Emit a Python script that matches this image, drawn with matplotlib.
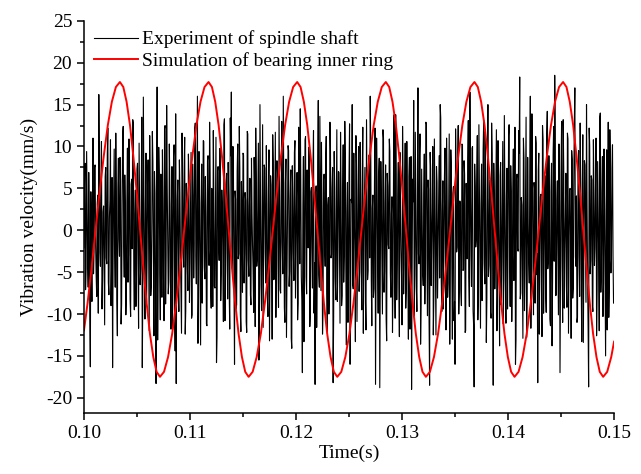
import numpy as np
import matplotlib
matplotlib.use('Agg')
import matplotlib.pyplot as plt
from matplotlib.ticker import MultipleLocator

plt.rcParams['font.family'] = ['Liberation Serif', 'DejaVu Serif']
plt.rcParams['axes.unicode_minus'] = False

# measured spindle shaft velocity (mm/s) on the 0.1 ms grid, 0.1000 .. 0.1500 s
exp_v_a = [
    -2.1, 8.0, -4.5, 2.6, -6.8, 1.2, -16.3, -3.4, 3.1, -5.2, 7.5, -1.8, -7.9, 4.2, 16.2, -2.6, 5.8, -9.4, 2.2, -4.1,
    6.4, -3.3, 9.1, -6.2, 1.5, 10.8, -4.7, -16.4, 3.9, -2.4, 11.6, -8.3, 5.2, -1.1, 8.7, -11.2, 3.5, 12.4, -5.6, 2.8,
    -7.4, 9.8, -2.9, 4.6, -10.3, 6.1, 13.2, -4.8, 1.9, -9.1, 7.3, -3.6, 10.4, -6.5, 2.7, -16.4, 15.9, -5.1, 3.2, -8.6,
    5.7, -2.2, 11.3, -7.8, 0.9, 8.2, -12.6, 4.4, -18.3, 17.1, -3.9, 6.8, -10.7, 2.1, 9.6, -5.3, 12.1, -8.8, 14.9, -1.4,
    -6.1, 4.9, -11.8, 7.6, -3.2, 10.2, -14.4, -18.3, 3.6, -6.9, 8.4, -2.7, -12.3, 5.9, -4.4, 11.1, -9.6, 2.4, -7.2, 6.3,
    -3.8, 9.3, -10.1, 4.1, -1.6, 12.8, -6.4, 16.0, -8.1, 3.3, -13.7, 7.9, -2.5, 10.6, -5.8, 1.7, -11.4, 8.9, -4.2, 6.7,
    -9.3, 3.8, 11.9, -6.7, 2.3, -15.8, 7.1, -1.3, 9.7, -8.4, 4.8, -3.1, 12.6, -10.8, 5.4, -2.2, 8.1, -7.5, 13.4, 16.5,
    -4.6, 6.2, -16.0, 3.7, -8.9, 10.3, -2.8, 7.4, -12.1, 1.8, 9.2, -6.3, 4.5, -10.9, 11.8, -3.5, 2.9, -7.7, 8.6, -1.9,
    -9.8, 5.1, 12.2, -4.3, 3.4, -15.5, 15.0, -6.6, 1.4, -11.6, 7.8, -2.6, 10.1, -8.2, 4.7, -13.2, 6.5, -1.2, 11.4, -5.9,
    2.5, -10.4, 8.3, -3.7, 13.6, -7.1, 4.3, -1.5, 16.0, -9.2, 5.6, -12.8, 2.1, 9.5, -4.9, 7.2, -14.1, 3.9, -6.0, 10.7,
    -2.3, 6.9, -8.7, 3.1, 14.5, -5.5, -17.0, 8.8, -3.4, 11.2, -7.6, 1.6, 9.9, -11.5, 4.6, -2.0, 7.7, -9.9, -18.4, 5.3,
    -4.0, 15.5, -6.8, 2.7, 10.5, -12.4, 6.0, -1.8, 8.5, -7.3, 3.0, -10.0, 12.9, -3.3, 5.0, -18.2, 9.4, -5.7, 1.1, -8.5,
    7.0, -2.4, 11.7, -9.0, 4.0, -6.2, 13.0, -4.5, 2.0, -11.0, 6.6, -16.0, 3.7, 15.0, -7.0, 1.3, -13.3, 8.0, -3.0, 10.0,
    -5.0, 4.2, -9.5, 12.3, -1.0, 7.5, -11.9, 3.5, -4.8, 9.0, 16.0, -6.0, 2.6, -8.0, 5.5, -18.4, 11.0, -3.6, 6.4, -18.8,
    8.2, -2.9, 12.0, -7.4, 3.3, -10.6, 6.8, -1.7, 10.9, -5.2, 1.9, -12.2, 7.6, -3.8, 13.8, -8.3, 4.1, -6.5, 9.3, -2.1,
    -11.3, 5.8, -4.1, 10.4, -7.0, 2.4, -13.0, 8.7, -2.8, -19.0, 6.1, 15.5, -5.4, 3.0, -9.7, 17.0, -4.0, 11.5, -8.8, 1.5,
    -6.6, 9.1, -3.2, 12.7, -10.2, 4.9, -18.5, 7.3, -1.4, 10.0, -7.9, 3.6, -12.5, 5.7, -2.3, 8.9, 15.0, -6.1, 2.2, -9.4,
    6.3, -3.5, 11.0, -8.0, 1.8, -13.6, 9.6, -4.4, 4.4, -10.8, -16.0, 7.0, -2.0, 12.5, -6.9, 3.2, -9.0, 10.2, -4.7, 6.7,
    -12.0, 2.8, 8.4, -5.6, 16.5, -3.0, 9.8, -9.6, -18.7, 5.2, -1.2, 11.3, -7.2, 3.9, -11.7, 7.9, -3.3, 13.1, -6.4, 2.0,
    -8.4, 15.0, -4.2, 6.0, -10.5, 9.0, -18.5, 4.0, -2.6, 12.0, -7.7, 1.2, -13.8, 8.1, -3.9, 10.6, -6.0, 3.4, -11.1, 7.4,
    -1.6, 12.6, -9.1, 4.6, -5.0, 9.7, -3.1, -16.0, 6.2, -2.2, 11.9, 18.3, -7.5, 3.0, -12.9, 8.6, -4.6, 13.5, -8.2, 1.0,
    -6.3, 16.0, -2.7, 7.1, -10.1, 5.0, 11.2, -5.3, -18.2, 9.2, -1.9, 4.3, -12.7, 10.8, -4.0, 6.5, -9.8, 14.2, -3.4, 2.3,
    -11.4, 8.0, -5.9, 12.4, 18.5, -7.8, 3.5, -2.5, 10.3, -17.0, 6.9, -3.7, 13.2, -9.3, 1.7, -6.7, 11.6, -12.3, 4.8, -1.3,
    9.5, -8.1, 5.3, 17.0, -4.3, -11.0, 7.7, -2.9, 12.8, -6.2, 3.8, -13.4, 8.3, -0.8, 15.0, -5.6, -18.7, 10.1, -3.6, 6.0,
    -9.7, 4.5, -2.1, 11.0, -7.1, 2.9, -12.0, 14.0, -4.9, 8.8, -6.5, 3.1, -15.0, 9.6, -1.6, -10.4, 12.0, -5.1, 7.3, -3.0,
    -8.0,
]
# the samples in between (0.10005, 0.10015, ... s)
exp_v_b = [
    5.3, -7.1, 9.4, -3.8, 6.9, -10.2, 4.6, -8.5, 11.0, -2.7, 7.8, -5.4, 3.2, -9.9, 8.1, -4.3, 10.6, -6.0, 2.9, -11.3,
    7.5, -4.0, 12.2, -7.7, 3.6, -9.0, 6.3, -2.5, 9.7, -6.8, 4.1, -12.6, 8.6, -3.1, 5.9, -8.8, 11.4, -1.9, 6.6, -10.1,
    3.4, -6.2, 10.9, -8.3, 5.5, -2.2, 12.8, -9.5, 4.8, -5.9, 8.0, -11.7, 2.6, -4.6, 13.5, -7.3, 6.1, -10.6, 9.2, -3.5,
    8.4, -12.0, 4.3, -6.5, 11.8, -3.9, 7.0, -9.3, 2.4, -13.1, 9.9, -5.1, 6.7, -8.0, 3.8, -10.8, 12.5, -2.9, 5.2, -7.6,
    10.3, -4.8, 3.0, -11.9, 8.8, -6.4, 13.9, -3.2, 6.0, -9.7, 4.5, -7.9, 11.6, -1.6, 7.3, -12.4, 5.6, -4.2, 9.1, -8.6,
    2.2, -10.5, 7.9, -5.7, 12.1, -3.0, 4.9, -13.5, 9.4, -6.1, 3.3, -8.7, 10.7, -4.4, 6.4, -11.2, 8.3, -2.4, 12.9, -7.0,
    5.0, -9.1, 3.9, -6.9, 11.1, -12.8, 7.6, -3.6, 9.8, -5.0, 2.7, -10.9, 13.3, -4.9, 6.8, -8.2, 4.0, -11.8, 8.9, -2.0,
    10.0, -6.6, 4.7, -9.4, 7.1, -3.4, 12.4, -10.0, 5.8, -7.4, 9.0, -2.8, 3.5, -12.2, 11.5, -5.5, 6.2, -8.9, 2.0, -4.7,
    8.7, -11.5, 6.5, -3.3, 10.4, -7.8, 4.4, -9.6, 12.6, -2.3, 7.4, -6.3, 3.1, -10.3, 9.6, -4.1, 5.4, -13.0, 8.2, -5.8,
    11.7, -3.7, 6.8, -9.2, 4.2, -7.5, 13.0, -5.2, 2.8, -11.0, 8.5, -4.5, 10.1, -6.7, 3.7, -12.9, 7.7, -2.6, 9.3, -8.1,
    4.1, -10.7, 12.3, -4.0, 6.1, -8.4, 3.0, -13.3, 10.8, -5.6, 7.2, -2.1, 9.9, -9.8, 5.1, -6.9, 11.9, -3.9, 4.6, -11.6,
    8.0, -5.3, 13.6, -7.2, 2.5, -9.5, 6.7, -4.3, 11.2, -12.1, 3.9, -6.4, 9.5, -2.9, 7.5, -10.4, 5.0, -8.3, 12.0, -3.6,
    6.9, -11.1, 4.5, -7.8, 10.2, -3.1, 8.4, -13.7, 5.7, -5.0, 12.7, -9.0, 3.3, -6.5, 9.2, -2.7, 11.3, -10.9, 4.8, -7.3,
    10.5, -4.6, 7.0, -12.3, 3.6, -8.6, 13.2, -5.9, 6.3, -3.3, 9.7, -11.4, 4.2, -7.0, 12.2, -2.5, 5.8, -9.9, 8.6, -6.0,
    3.2, -10.0, 11.0, -4.9, 7.8, -13.2, 5.3, -2.2, 9.4, -8.0, 4.0, -6.2, 13.8, -10.5, 6.6, -3.8, 8.1, -12.7, 2.9, -5.4,
    12.4, -7.6, 4.9, -9.3, 10.6, -3.5, 6.4, -11.8, 8.8, -4.7, 3.4, -10.2, 11.7, -6.8, 5.5, -2.8, 9.0, -13.6, 7.3, -5.1,
    4.3, -8.8, 12.9, -3.2, 6.0, -10.8, 9.3, -6.6, 2.6, -12.5, 10.9, -4.4, 7.6, -8.1, 3.8, -5.7, 13.4, -9.7, 5.9, -2.3,
    9.8, -11.9, 4.7, -6.3, 11.5, -3.9, 7.2, -13.0, 5.2, -8.5, 12.1, -2.6, 6.9, -10.0, 3.5, -7.1, 10.3, -4.8, 8.3, -12.2,
    5.6, -3.4, 13.1, -9.1, 4.4, -6.7, 10.0, -11.3, 7.9, -2.0, 6.2, -10.7, 12.6, -5.0, 3.1, -8.4, 9.6, -4.0, 11.8, -13.4,
    7.0, -5.5, 3.6, -9.8, 12.8, -2.9, 8.0, -7.0, 5.1, -12.0, 10.7, -4.1, 6.5, -8.9, 2.7, -11.2, 13.7, -6.1, 4.2, -9.4,
    11.3, -3.0, 7.7, -10.9, 4.8, -6.0, 12.3, -13.1, 6.7, -2.5, 9.2, -8.2, 3.9, -5.3, 11.0, -9.6, 5.4, -12.8, 8.7, -3.8,
    6.3, -11.7, 13.9, -4.5, 5.7, -8.7, 10.4, -2.8, 7.1, -12.4, 4.0, -6.6, 12.5, -9.9, 3.2, -7.5, 11.6, -4.6, 8.9, -10.6,
    4.6, -13.8, 9.1, -3.7, 12.0, -7.7, 5.9, -10.1, 3.4, -5.9, 13.0, -11.0, 7.4, -2.4, 6.8, -9.2, 10.9, -4.3, 5.0, -12.9,
    8.5, -6.8, 12.7, -3.1, 4.1, -10.4, 9.5, -7.9, 6.0, -13.3, 11.4, -2.2, 7.8, -8.6, 3.0, -11.5, 12.2, -5.2, 6.5, -9.0,
    10.8, -4.2, 5.3, -12.6, 8.2, -3.3, 13.5, -7.4, 4.5, -10.3, 9.7, -5.8, 2.4, -11.9, 12.9, -6.4, 7.5, -3.5, 10.2, -8.7,
]
t_a = 0.10 + 0.0001 * np.arange(len(exp_v_a))
t_b = 0.10005 + 0.0001 * np.arange(len(exp_v_b))
exp_t = np.concatenate([t_a, t_b])
exp_v = np.concatenate([exp_v_a, exp_v_b])
order = np.argsort(exp_t)
exp_t, exp_v = exp_t[order], exp_v[order]

# simulated bearing inner ring velocity (mm/s)
sim_t = [
    0.10000, 0.10034, 0.10072, 0.10110, 0.10148, 0.10187, 0.10225, 0.10263, 0.10301, 0.10339,
    0.10371, 0.10402, 0.10434, 0.10465, 0.10497, 0.10528, 0.10560, 0.10591, 0.10622, 0.10654, 0.10685, 0.10717,
    0.10755, 0.10793, 0.10832, 0.10870, 0.10908, 0.10946, 0.10984, 0.11023, 0.11061, 0.11099, 0.11137, 0.11175,
    0.11207, 0.11238, 0.11270, 0.11301, 0.11333, 0.11364, 0.11396, 0.11427, 0.11458, 0.11490, 0.11521, 0.11553,
    0.11591, 0.11629, 0.11668, 0.11706, 0.11744, 0.11782, 0.11820, 0.11859, 0.11897, 0.11935, 0.11973, 0.12011,
    0.12043, 0.12074, 0.12106, 0.12137, 0.12169, 0.12200, 0.12232, 0.12263, 0.12294, 0.12326, 0.12357, 0.12389,
    0.12427, 0.12465, 0.12504, 0.12542, 0.12580, 0.12618, 0.12656, 0.12695, 0.12733, 0.12771, 0.12809, 0.12847,
    0.12879, 0.12910, 0.12942, 0.12973, 0.13005, 0.13036, 0.13068, 0.13099, 0.13130, 0.13162, 0.13193, 0.13225,
    0.13263, 0.13301, 0.13340, 0.13378, 0.13416, 0.13454, 0.13492, 0.13531, 0.13569, 0.13607, 0.13645, 0.13683,
    0.13715, 0.13746, 0.13778, 0.13809, 0.13841, 0.13872, 0.13904, 0.13935, 0.13966, 0.13998, 0.14029, 0.14061,
    0.14099, 0.14137, 0.14176, 0.14214, 0.14252, 0.14290, 0.14328, 0.14367, 0.14405, 0.14443, 0.14481, 0.14519,
    0.14551, 0.14582, 0.14614, 0.14645, 0.14677, 0.14708, 0.14740, 0.14771, 0.14802, 0.14834, 0.14865, 0.14897,
    0.14935, 0.14973, 0.15000,
]
rise = [-16.9, -15.14, -12.35, -8.7, -4.46, 0.1, 4.66, 8.9, 12.55, 15.34, 17.1, 17.7]
fall = [17.1, 15.34, 12.55, 8.9, 4.66, 0.1, -4.46, -8.7, -12.35, -15.14, -16.9, -17.5]
sim_v = ([-11.95, -8.7, -4.46, 0.1, 4.66, 8.9, 12.55, 15.34, 17.1, 17.7] + fall
         + (rise + fall) * 5 + [-16.9, -15.14, -13.3])

fig = plt.figure(figsize=(6.41, 4.74), dpi=100)
ax = fig.add_axes([0.131, 0.129, 0.827, 0.827])

ax.plot(exp_t, exp_v, color='black', lw=0.8, label='Experiment of spindle shaft')
ax.plot(sim_t, sim_v, color='red', lw=1.4, label='Simulation of bearing inner ring')

ax.set_xlim(0.10, 0.15)
ax.set_ylim(-21.8, 25)
ax.xaxis.set_major_locator(MultipleLocator(0.01))
ax.xaxis.set_minor_locator(MultipleLocator(0.005))
ax.yaxis.set_major_locator(MultipleLocator(5))
ax.yaxis.set_minor_locator(MultipleLocator(2.5))
ax.xaxis.set_major_formatter(plt.FormatStrFormatter('%.2f'))

for s in ['top', 'right']:
    ax.spines[s].set_visible(False)
for s in ['left', 'bottom']:
    ax.spines[s].set_linewidth(1.1)
ax.tick_params(which='major', direction='out', length=5, width=1.1, labelsize=14)
ax.tick_params(which='minor', direction='out', length=3, width=1.1)

ax.set_xlabel('Time(s)', fontsize=14, labelpad=2)
ax.set_ylabel('Vibration velocity(mm/s)', fontsize=14, labelpad=6)

leg = ax.legend(loc='upper left', bbox_to_anchor=(0.0, 1.0), frameon=False, fontsize=14,
                handlelength=2.3, handletextpad=0.2, labelspacing=0.2, borderaxespad=0.1)
leg.get_lines()[0].set_linewidth(0.8)

fig.savefig('out.png', dpi=100)
